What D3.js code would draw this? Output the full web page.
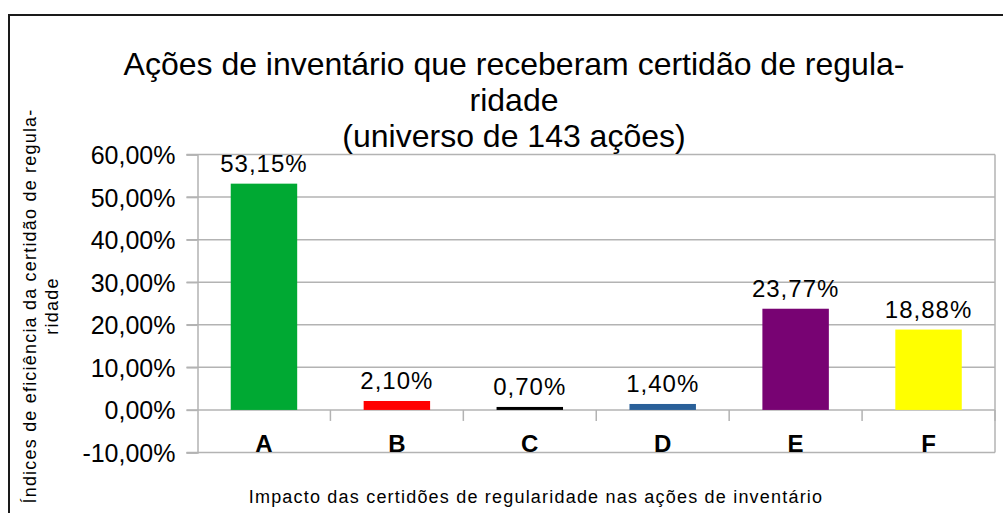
<!DOCTYPE html>
<html lang="pt">
<head>
<meta charset="UTF-8">
<script src="https://cdn.jsdelivr.net/npm/d3@7"></script>
<style>
  body { margin: 0; background: #fff; }
  svg { display: block; font-family: "Liberation Sans", Arial, sans-serif; }
  .grid line { stroke: #b3b3b3; stroke-width: 1.5px; }
  .axis path, .axis line { stroke: #b3b3b3; stroke-width: 1.5px; }
  .axis text { fill: #000; }
</style>
</head>
<body>
<script>
// categorias e valores (percentagem)
var categories = ["A", "B", "C", "D", "E", "F"];
var values = [53.15, 2.10, 0.70, 1.40, 23.77, 18.88];
var colors = ["#00a933", "#ff0000", "#000000", "#2a6099", "#780373", "#ffff00"];
var yTicks = [-10, 0, 10, 20, 30, 40, 50, 60];

var titleLines = ["Ações de inventário que receberam certidão de regula-", "ridade", "(universo de 143 ações)"];
var yTitleLines = ["Índices de eficiência da certidão de regula-", "ridade"];
var xTitle = "Impacto das certidões de regularidade nas ações de inventário";

var width = 1003, height = 513;
var plot = { left: 197.5, right: 995, top: 154.5, bottom: 452.5 };

var svg = d3.select("body").append("svg")
    .attr("width", width)
    .attr("height", height);

// moldura exterior
svg.append("rect")
    .attr("x", 9).attr("y", 15)
    .attr("width", 1010).attr("height", 520)
    .attr("fill", "none")
    .attr("stroke", "#1a1a1a")
    .attr("stroke-width", 2);

// 60,00% ; hífen normal no negativo
var fmt = function(v) { return d3.format(".2f")(v).replace(".", ",").replace("\u2212", "-") + "%"; };

var x = d3.scaleBand()
    .domain(categories)
    .range([plot.left, plot.right])
    .paddingInner(0.5)
    .paddingOuter(0.25);

var xOuter = d3.scaleBand()
    .domain(categories)
    .range([plot.left, plot.right]);

var y = d3.scaleLinear()
    .domain([-10, 60])
    .range([plot.bottom, plot.top]);

// grelha horizontal
svg.append("g").attr("class", "grid")
  .selectAll("line").data(yTicks).join("line")
    .attr("x1", plot.left - 11).attr("x2", plot.right)
    .attr("y1", function(d) { return y(d); })
    .attr("y2", function(d) { return y(d); });

// eixo y
var yAxis = svg.append("g").attr("class", "axis")
    .attr("transform", "translate(" + plot.left + ",0)")
    .call(d3.axisLeft(y).tickValues(yTicks).tickFormat(fmt).tickSize(11).tickPadding(11));
yAxis.selectAll("text").style("font-size", "25px").attr("dy", "0.36em");

// borda direita da área
svg.append("line")
    .attr("x1", plot.right).attr("x2", plot.right)
    .attr("y1", plot.top).attr("y2", plot.bottom)
    .attr("stroke", "#b3b3b3").attr("stroke-width", 1.5);

// marcas de categoria no zero
svg.append("g").attr("class", "axis")
  .selectAll("line").data(categories.slice(1).concat(["end"])).join("line")
    .attr("x1", function(d, i) { return plot.left + xOuter.bandwidth() * (i + 1); })
    .attr("x2", function(d, i) { return plot.left + xOuter.bandwidth() * (i + 1); })
    .attr("y1", y(0)).attr("y2", y(0) + 11);

// barras
svg.append("g").selectAll("rect").data(values).join("rect")
    .attr("x", function(d, i) { return x(categories[i]); })
    .attr("width", x.bandwidth())
    .attr("y", function(d) { return y(d); })
    .attr("height", function(d) { return y(0) - y(d); })
    .attr("fill", function(d, i) { return colors[i]; });

// rótulos de valor
svg.append("g").selectAll("text").data(values).join("text")
    .attr("x", function(d, i) { return x(categories[i]) + x.bandwidth() / 2; })
    .attr("y", function(d) { return y(d) - 12; })
    .attr("text-anchor", "middle")
    .style("font-size", "24px")
    .style("letter-spacing", "1px")
    .text(fmt);

// nomes das categorias
svg.append("g").selectAll("text").data(categories).join("text")
    .attr("x", function(d) { return xOuter(d) + xOuter.bandwidth() / 2; })
    .attr("y", y(0) + 42)
    .attr("text-anchor", "middle")
    .style("font-size", "24px")
    .style("font-weight", "bold")
    .text(function(d) { return d; });

// título
svg.append("g").selectAll("text").data(titleLines).join("text")
    .attr("x", 514)
    .attr("y", function(d, i) { return 75 + i * 36; })
    .attr("text-anchor", "middle")
    .style("font-size", "32px")
    .text(function(d) { return d; });

// título do eixo y
svg.append("g").selectAll("text").data(yTitleLines).join("text")
    .attr("transform", function(d, i) { return "translate(" + (36 + i * 22) + ",306) rotate(-90)"; })
    .attr("text-anchor", "middle")
    .style("font-size", "18px")
    .style("letter-spacing", "1.2px")
    .text(function(d) { return d; });

// título do eixo x
svg.append("text")
    .attr("x", 536).attr("y", 503)
    .attr("text-anchor", "middle")
    .style("font-size", "18px")
    .style("letter-spacing", "1.2px")
    .text(xTitle);
</script>
</body>
</html>
